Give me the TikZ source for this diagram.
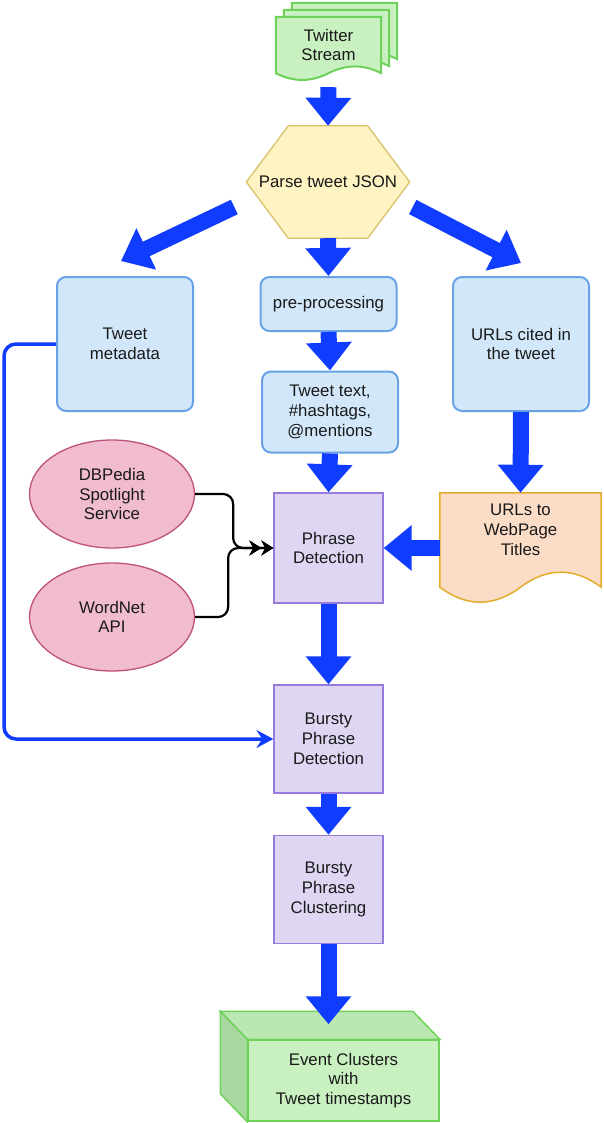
\documentclass[tikz,border=0pt]{standalone}
\usepackage{fontspec}
\setmainfont{Liberation Sans}
\usetikzlibrary{arrows.meta,positioning,calc,backgrounds,shapes.geometric}

\definecolor{flowblue}{RGB}{16,60,255}
\definecolor{textgray}{RGB}{25,25,25}
\definecolor{boxbluefill}{RGB}{210,232,250}
\definecolor{boxblueline}{RGB}{105,162,230}
\definecolor{purplefill}{RGB}{222,214,243}
\definecolor{purpleline}{RGB}{150,122,220}
\definecolor{hexfill}{RGB}{253,243,195}
\definecolor{hexline}{RGB}{218,194,105}
\definecolor{peachfill}{RGB}{251,221,199}
\definecolor{peachline}{RGB}{226,172,45}
\definecolor{pinkfill}{RGB}{241,187,208}
\definecolor{pinkline}{RGB}{190,82,122}
\definecolor{greenfill}{RGB}{200,240,192}
\definecolor{greentop}{RGB}{187,232,178}
\definecolor{greenside}{RGB}{168,216,160}
\definecolor{greenline}{RGB}{110,210,90}

% document outline with a wavy bottom: node name, bulge
\newcommand{\docoutline}[2]{(#1.north west) -- (#1.north east) -- (#1.south east)
  .. controls ($(#1.south east)!0.333!(#1.south)+(0,#2)$) and ($(#1.south)!0.333!(#1.south east)+(0,#2)$) .. (#1.south)
  .. controls ($(#1.south)!0.333!(#1.south west)-(0,#2)$) and ($(#1.south west)!0.333!(#1.south)-(0,#2)$) .. (#1.south west) -- cycle}

\tikzset{
  every node/.style={font=\fontsize{16.8}{19.8}\selectfont, text=textgray, align=center, inner sep=0pt},
  bluebox/.style={draw=boxblueline, fill=boxbluefill, line width=2pt, rounded corners=9pt, minimum width=136pt},
  purplebox/.style={draw=purpleline, fill=purplefill, line width=1.3pt, minimum width=109pt, minimum height=108pt},
  service/.style={ellipse, draw=pinkline, fill=pinkfill, line width=1.3pt, minimum width=165pt, minimum height=108pt},
  flow/.style={draw=flowblue, line width=16pt, -{Triangle[width=44pt,length=28pt]}},
  feed/.style={draw=flowblue, line width=3.5pt, rounded corners=12pt, -{Stealth[length=17pt,width=18pt,inset=6pt]}},
  lookup/.style={draw=black, line width=2.2pt, rounded corners=10pt, -{Stealth[length=12pt,width=15pt]Stealth[length=12pt,width=15pt]}}
}

\begin{document}
\begin{tikzpicture}[x=1pt, y=-1pt]
  \useasboundingbox (0,0) rectangle (604,1123);

  % Nodes
  \node (twback) [minimum width=105pt, minimum height=56pt] at (344.5,31) {};
  \node (twmid) [minimum width=105pt, minimum height=56pt] at (336.5,38) {};
  \node (twitter) [minimum width=105pt, minimum height=56pt] at (328.5,45) {Twitter\\Stream};
  \node (parse) [minimum width=163pt, minimum height=112pt] at (328,182) {Parse tweet JSON};

  \node (meta) [bluebox, minimum height=134pt] at (125,344) {Tweet\\metadata};
  \node (pre) [bluebox, minimum height=54pt] at (328.5,304) {pre-processing};
  \node (urls) [bluebox, minimum height=134pt] at (521,344) {URLs cited in\\the tweet};
  \node (txt) [bluebox, minimum height=81pt] at (330,412) {Tweet text,\\\#hashtags,\\@mentions};

  \node (phrase) [purplebox, minimum height=110pt] at (328.5,548) {Phrase\\Detection};
  \node (web) [minimum width=161pt, minimum height=94pt, text depth=20pt] at (520.5,540) {URLs to\\WebPage\\Titles};
  \node (dbp) [service] at (112,494) {DBPedia\\Spotlight\\Service};
  \node (wn) [service] at (112,617) {WordNet\\API};

  \node (bursty) [purplebox] at (328.5,739) {Bursty\\Phrase\\Detection};
  \node (cluster) [purplebox] at (328.5,889.5) {Bursty\\Phrase\\Clustering};
  \node (events) [draw=greenline, fill=greenfill, line width=1.5pt, minimum width=191pt, minimum height=81pt] at (343.5,1080.5) {Event Clusters\\with\\Tweet timestamps};

  % Outlines
  \begin{scope}[on background layer]
    \foreach \pg in {twback, twmid, twitter}
      \draw[draw=greenline, fill=greenfill, line width=2pt] \docoutline{\pg}{9pt};
    \draw[draw=hexline, fill=hexfill, line width=1.3pt] (parse.west) -- ([xshift=42pt]parse.north west)
      -- ([xshift=-42pt]parse.north east) -- (parse.east) -- ([xshift=-42pt]parse.south east)
      -- ([xshift=42pt]parse.south west) -- cycle;
    \draw[draw=peachline, fill=peachfill, line width=1.5pt] \docoutline{web}{20pt};
    \draw[draw=greenline, fill=greentop, line width=1.5pt] (events.north west) -- ++(-27pt,28pt)
      -- ($(events.north east)+(-27pt,28pt)$) -- (events.north east) -- cycle;
    \draw[draw=greenline, fill=greenside, line width=1.5pt] (events.north west) -- ++(-27pt,28pt)
      -- ($(events.south west)+(-27pt,28pt)$) -- (events.south west) -- cycle;
  \end{scope}

  % Edges
  \draw[flow, shorten <=14pt] (twitter.south) -- (parse.north);
  \draw[flow] ([shift={(-12pt,-25pt)}]parse.west) -- ([shift={(-4pt,15pt)}]meta.north);
  \draw[flow] (parse.south) -- (pre.north);
  \draw[flow] ([shift={(3pt,-25pt)}]parse.east) -- ([yshift=13pt]urls.north);
  \draw[flow] (pre.south) -- (txt.north);
  \draw[flow] (txt.south) -- (phrase.north);
  \draw[flow] (urls.south) -- (web.north);
  \draw[flow] (web.west |- phrase.east) -- (phrase.east);
  \draw[flow] (phrase.south) -- (bursty.north);
  \draw[flow] (bursty.south) -- (cluster.north);
  \draw[flow, shorten >=15pt] (cluster.south) -- (cluster.south |- events.north);

  \draw[lookup] (dbp.east) -- ++(38pt,0) |- (phrase.west);
  \draw[lookup] (wn.east) -- ++(33pt,0) |- (phrase.west);
  \draw[feed] (meta.west) -- ++(-52pt,0) |- (bursty.west);
\end{tikzpicture}
\end{document}
